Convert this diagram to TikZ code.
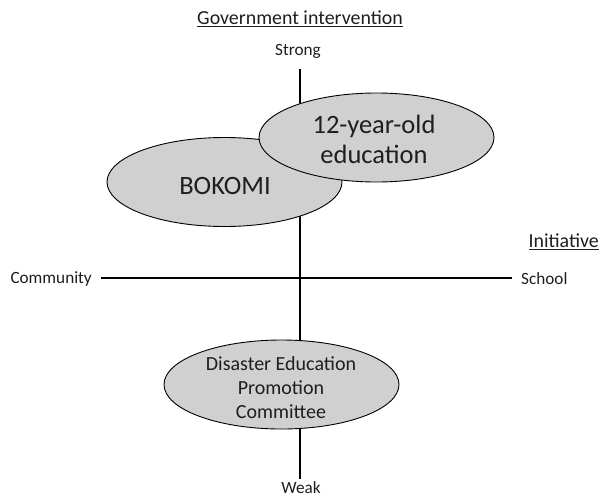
\documentclass[tikz,border=0pt]{standalone}
\usepackage{fontspec}
\setmainfont{Carlito}
\usetikzlibrary{shapes.geometric}
\definecolor{ellfill}{RGB}{208,208,208}
\definecolor{txt}{RGB}{30,30,30}
\tikzset{
  axis/.style={line width=2.4pt, black},
  ell/.style={ellipse, draw=black, line width=0.9pt, fill=ellfill, inner sep=0pt, minimum width=235pt, minimum height=89pt},
  lbl/.style={font=\fontsize{17.2}{20}\selectfont, text=txt, inner sep=0pt},
  ttl/.style={font=\fontsize{19.9}{23}\selectfont, text=txt, inner sep=0pt},
  big/.style={font=\fontsize{26.5}{30}\selectfont, text=txt, inner sep=0pt, align=center},
  mid/.style={font=\fontsize{20}{24}\selectfont, text=txt, inner sep=0pt, align=center}
}
\begin{document}
\begin{tikzpicture}[x=1pt,y=-1pt]
\useasboundingbox (0,0) rectangle (599,498);
% axes endpoints
\coordinate (vtop) at (300,69);
\coordinate (vbot) at (300,479);
\coordinate (hl) at (101,278);
\coordinate (hr) at (512,278);
\draw[axis] (vtop) -- (vbot);
\draw[axis] (hl) -- (hr);
% labels
\node[ttl] (title) at (300,19) {\underline{Government intervention}};
\node[lbl] (strong) at (298,51) {Strong};
\node[lbl] (weak) at (301,488) {Weak};
\node[lbl, anchor=east] (community) at (92,279) {Community};
\node[lbl, anchor=west] (school) at (521,279) {School};
\node[ttl, anchor=east] (initiative) at (599,242) {\underline{Initiative}};
% ellipses
\node[ell] (bokomi) at (224.5,182) {};
\node[big] (bokomitxt) at (225,186) {BOKOMI};
\node[ell] (twelve) at (376.5,137.5) {};
\node[big] (twelvetxt) at (374,139) {12-year-old\\education};
\node[ell] (dep) at (281.5,384.5) {};
\node[mid] (deptxt) at (281,388) {Disaster Education\\Promotion\\Committee};
\end{tikzpicture}
\end{document}
